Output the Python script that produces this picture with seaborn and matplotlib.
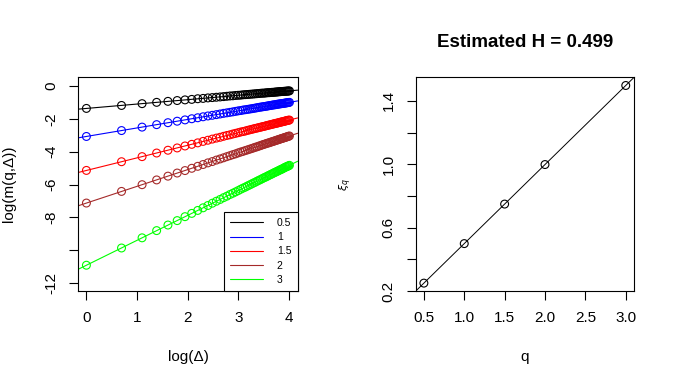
import matplotlib
matplotlib.use("Agg")
import matplotlib.pyplot as plt
import numpy as np
import pandas as pd
import seaborn as sns
from matplotlib.lines import Line2D

# lags (Delta) used for the moment estimates
lags = [1, 2, 3, 4, 5, 6, 7, 8, 9, 10, 11, 12, 13, 14, 15, 16, 17, 18, 19, 20,
        21, 22, 23, 24, 25, 26, 27, 28, 29, 30, 31, 32, 33, 34, 35, 36, 37, 38, 39, 40,
        41, 42, 43, 44, 45, 46, 47, 48, 49, 50, 51, 52, 53, 54, 55]

# log(m(q, Delta)), one list per q
logm_q05 = [-1.36, -1.18, -1.07, -0.99, -0.93, -0.88, -0.84, -0.81, -0.77, -0.75,
            -0.72, -0.70, -0.68, -0.66, -0.64, -0.62, -0.60, -0.59, -0.57, -0.56,
            -0.55, -0.53, -0.52, -0.51, -0.50, -0.49, -0.48, -0.47, -0.46, -0.45,
            -0.44, -0.43, -0.43, -0.42, -0.41, -0.40, -0.40, -0.39, -0.38, -0.38,
            -0.37, -0.36, -0.36, -0.35, -0.34, -0.34, -0.33, -0.33, -0.32, -0.32,
            -0.31, -0.31, -0.30, -0.30, -0.29]
logm_q10 = [-3.07, -2.71, -2.50, -2.35, -2.23, -2.14, -2.06, -1.99, -1.93, -1.87,
            -1.82, -1.78, -1.74, -1.70, -1.66, -1.63, -1.60, -1.57, -1.54, -1.51,
            -1.49, -1.46, -1.44, -1.42, -1.40, -1.38, -1.36, -1.34, -1.32, -1.30,
            -1.28, -1.27, -1.25, -1.24, -1.22, -1.21, -1.19, -1.18, -1.16, -1.15,
            -1.14, -1.13, -1.11, -1.10, -1.09, -1.08, -1.07, -1.06, -1.05, -1.04,
            -1.03, -1.02, -1.01, -1.00, -0.99]
logm_q15 = [-5.14, -4.61, -4.30, -4.08, -3.91, -3.77, -3.65, -3.55, -3.46, -3.37,
            -3.30, -3.23, -3.17, -3.12, -3.06, -3.01, -2.97, -2.92, -2.88, -2.84,
            -2.80, -2.77, -2.74, -2.70, -2.67, -2.64, -2.61, -2.58, -2.56, -2.53,
            -2.51, -2.48, -2.46, -2.44, -2.41, -2.39, -2.37, -2.35, -2.33, -2.31,
            -2.29, -2.27, -2.26, -2.24, -2.22, -2.20, -2.19, -2.17, -2.16, -2.14,
            -2.12, -2.11, -2.09, -2.08, -2.07]
logm_q20 = [-7.13, -6.42, -6.01, -5.72, -5.49, -5.30, -5.15, -5.01, -4.89, -4.78,
            -4.68, -4.60, -4.51, -4.44, -4.37, -4.30, -4.24, -4.18, -4.13, -4.07,
            -4.02, -3.98, -3.93, -3.89, -3.85, -3.81, -3.77, -3.73, -3.70, -3.66,
            -3.63, -3.59, -3.56, -3.53, -3.50, -3.47, -3.45, -3.42, -3.39, -3.37,
            -3.34, -3.32, -3.29, -3.27, -3.25, -3.22, -3.20, -3.18, -3.16, -3.14,
            -3.12, -3.10, -3.08, -3.06, -3.04]
logm_q30 = [-10.92, -9.87, -9.25, -8.81, -8.47, -8.20, -7.96, -7.76, -7.58, -7.42,
            -7.28, -7.14, -7.02, -6.91, -6.80, -6.71, -6.61, -6.53, -6.45, -6.37,
            -6.29, -6.22, -6.16, -6.09, -6.03, -5.97, -5.91, -5.86, -5.80, -5.75,
            -5.70, -5.65, -5.60, -5.56, -5.52, -5.47, -5.43, -5.39, -5.35, -5.31,
            -5.27, -5.24, -5.20, -5.17, -5.13, -5.10, -5.07, -5.04, -5.00, -4.97,
            -4.94, -4.91, -4.89, -4.86, -4.83]

q_labels = ["0.5", "1", "1.5", "2", "3"]
q_colors = ["black", "blue", "red", "brown", "#00ff00"]

# scaling exponents xi_q (right panel)
q_values = [0.5, 1.0, 1.5, 2.0, 3.0]
xi_q = [0.2495, 0.499, 0.7485, 0.998, 1.497]
H_EST = 0.499

sns.set_theme(style="ticks")
plt.rcParams["font.family"] = ["Liberation Sans", "DejaVu Sans"]
plt.rcParams["axes.linewidth"] = 0.8
plt.rcParams["axes.edgecolor"] = "black"
plt.rcParams["text.color"] = "black"
plt.rcParams["axes.labelcolor"] = "black"
plt.rcParams["xtick.color"] = "black"
plt.rcParams["ytick.color"] = "black"

series = [logm_q05, logm_q10, logm_q15, logm_q20, logm_q30]
log_lag = np.log(np.array(lags, dtype=float))
df = pd.concat(
    [pd.DataFrame({"logd": log_lag, "logm": vals, "q": lab})
     for vals, lab in zip(series, q_labels)],
    ignore_index=True,
)

fig = plt.figure(figsize=(6.75, 3.89), dpi=100)
ax1 = fig.add_axes([0.116, 0.252, 0.325, 0.549])
ax2 = fig.add_axes([0.616, 0.252, 0.323, 0.549])

# ---- left panel: log moments vs log lag ----
for vals, col in zip(series, q_colors):
    b, a = np.polyfit(log_lag, vals, 1)
    ax1.axline((0, a), slope=b, color=col, lw=0.8, zorder=1)

sns.scatterplot(data=df, x="logd", y="logm", hue="q", palette=q_colors,
                s=32, linewidth=0.8, legend=False, ax=ax1, zorder=2)
coll = ax1.collections[0]
coll.set_edgecolors(coll.get_facecolors())
coll.set_facecolors("none")

ax1.set_xlim(-0.16, 4.17)
ax1.set_ylim(-12.49, 0.53)
ax1.set_xticks([0, 1, 2, 3, 4])
ax1.set_yticks([0, -2, -4, -6, -8, -10, -12])
ax1.set_yticklabels(["0", "-2", "-4", "-6", "-8", "", "-12"])
ax1.set_xlabel("log(Δ)", fontsize=11, labelpad=18)
ax1.set_ylabel("log(m(q,Δ))", fontsize=11, labelpad=20)

handles = [Line2D([0], [0], color=c, lw=0.8) for c in q_colors]
leg = ax1.legend(handles, q_labels, loc="lower right", bbox_to_anchor=(1, 0),
                 borderaxespad=0, fontsize=7.5, frameon=True, fancybox=False,
                 framealpha=1, edgecolor="black", handlelength=3.2,
                 handletextpad=1.3, labelspacing=0.4, borderpad=0.6)
leg.get_frame().set_linewidth(0.8)

# ---- right panel: xi_q vs q ----
b2, a2 = np.polyfit(q_values, xi_q, 1)
ax2.axline((0, a2), slope=b2, color="black", lw=0.7, zorder=1)
sns.scatterplot(x=q_values, y=xi_q, s=32, facecolor="none", edgecolor="black",
                linewidth=0.8, ax=ax2, zorder=2)

ax2.set_xlim(0.4, 3.1)
ax2.set_ylim(0.2, 1.548)
ax2.set_xticks([0.5, 1.0, 1.5, 2.0, 2.5, 3.0])
ax2.set_xticklabels(["0.5", "1.0", "1.5", "2.0", "2.5", "3.0"])
ax2.set_yticks([0.2, 0.4, 0.6, 0.8, 1.0, 1.2, 1.4])
ax2.set_yticklabels(["0.2", "", "0.6", "", "1.0", "", "1.4"])
ax2.set_xlabel("q", fontsize=11, labelpad=18)
ax2.set_ylabel(r"$\xi_q$", fontsize=8, labelpad=20)
ax2.set_title(f"Estimated H = {H_EST}", fontsize=13.5, fontweight="bold", pad=22)

for ax in (ax1, ax2):
    ax.tick_params(direction="out", length=6.7, width=0.8, labelsize=11, pad=8,
                   labelcolor="black")
    ax.tick_params(axis="y", labelrotation=90)
    for lab in ax.get_yticklabels():
        lab.set_va("center")
    for sp in ax.spines.values():
        sp.set_visible(True)
        sp.set_color("black")
    ax.grid(False)

fig.savefig("out.png", dpi=100, facecolor="white")
